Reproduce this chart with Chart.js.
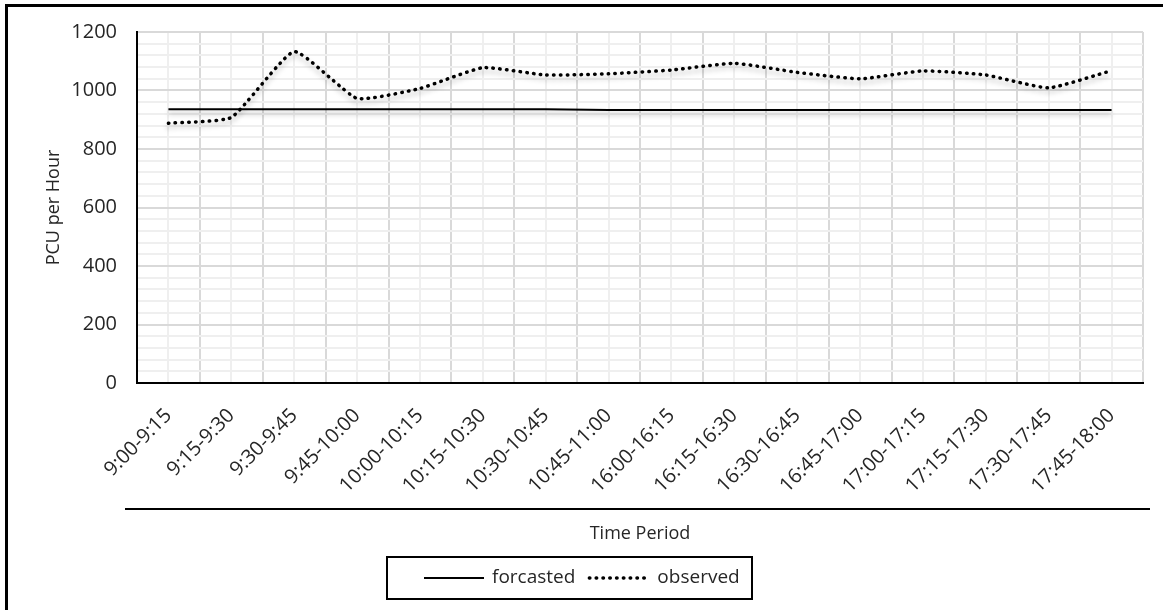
<!DOCTYPE html>
<html>
<head>
<meta charset="utf-8">
<script src="https://cdn.jsdelivr.net/npm/chart.js@4/dist/chart.umd.min.js"></script>
<style>
  html, body { margin: 0; padding: 0; background: #fff; }
  #wrap { position: relative; width: 1163px; height: 610px; overflow: hidden; }
  #frame { position: absolute; left: 5px; top: 4px; width: 1300px; height: 800px;
           border-left: 3px solid #000; border-top: 3px solid #000; }
  #chart { position: absolute; left: 0; top: 0; }
</style>
</head>
<body>
<div id="wrap">
  <div id="frame"></div>
  <canvas id="chart" width="1163" height="610"></canvas>
</div>
<script>
// ---------------------------------------------------------
// Data
// ---------------------------------------------------------
const periods = [
  '9:00-9:15', '9:15-9:30', '9:30-9:45', '9:45-10:00',
  '10:00-10:15', '10:15-10:30', '10:30-10:45', '10:45-11:00',
  '16:00-16:15', '16:15-16:30', '16:30-16:45', '16:45-17:00',
  '17:00-17:15', '17:15-17:30', '17:30-17:45', '17:45-18:00',
];
const forcasted = [936, 936, 936, 936, 936, 936, 936, 933, 933, 933, 933, 933, 933, 933, 933, 933];
const observed = [888, 908, 1133, 973, 1007, 1078, 1053, 1057, 1070, 1093, 1062, 1040, 1067, 1053, 1009, 1068];

const Y_MAX = 1200;
const Y_MINOR = 40;
const Y_MAJOR = 200;

const FONT = "'Open Sans', 'Noto Sans', sans-serif";
const TEXT = '#262626';
const GRID_MAJOR = '#d9d9d9';
const GRID_MINOR = '#efefef';

// soft drop shadow under the series lines (Excel look)
const shadowPlugin = {
  id: 'shadow',
  beforeDatasetsDraw(chart) {
    const ctx = chart.ctx;
    ctx.save();
    ctx.shadowColor = 'rgba(0, 0, 0, 0.28)';
    ctx.shadowBlur = 5;
    ctx.shadowOffsetY = 4;
  },
  afterDatasetsDraw(chart) {
    chart.ctx.restore();
  },
};

// rule under the category labels + boxed legend
const extrasPlugin = {
  id: 'extras',
  afterDraw(chart) {
    const ctx = chart.ctx;
    const area = chart.chartArea;
    ctx.save();

    ctx.strokeStyle = '#000';
    ctx.lineWidth = 2;
    ctx.beginPath();
    ctx.moveTo(area.left - 12, 509);
    ctx.lineTo(area.right + 7, 509);
    ctx.stroke();

    const box = { x: 387, y: 557, w: 365, h: 42 };
    ctx.strokeRect(box.x, box.y, box.w, box.h);

    ctx.font = '19px ' + FONT;
    ctx.textBaseline = 'middle';
    ctx.fillStyle = TEXT;
    const cy = box.y + box.h / 2;
    let x = 424;
    chart.data.datasets.forEach(ds => {
      ctx.save();
      ctx.strokeStyle = ds.borderColor;
      ctx.lineWidth = ds.borderWidth;
      ctx.lineCap = ds.borderCapStyle || 'butt';
      ctx.setLineDash(ds.borderDash || []);
      ctx.beginPath();
      ctx.moveTo(x, cy);
      ctx.lineTo(x + 60, cy);
      ctx.stroke();
      ctx.restore();
      x += 60 + 8;
      ctx.fillText(ds.label, x, cy);
      x += ctx.measureText(ds.label).width + 14;
    });
    ctx.restore();
  },
};

new Chart(document.getElementById('chart'), {
  type: 'line',
  data: {
    labels: periods,
    datasets: [
      {
        label: 'forcasted',
        data: forcasted,
        borderColor: '#000',
        borderWidth: 2,
        pointRadius: 0,
        tension: 0,
        fill: false,
      },
      {
        label: 'observed',
        data: observed,
        borderColor: '#000',
        borderWidth: 3.5,
        borderDash: [0.5, 6.3],
        borderCapStyle: 'round',
        pointRadius: 0,
        tension: 0.15,
        fill: false,
      },
    ],
  },
  options: {
    responsive: false,
    animation: false,
    devicePixelRatio: 1,
    layout: { padding: { top: 32, right: 20, left: 0, bottom: 0 } },
    plugins: {
      legend: { display: false },
      tooltip: { enabled: false },
    },
    scales: {
      x: {
        type: 'category',
        offset: true,
        afterFit: s => { s.height = 227; },
        grid: {
          offset: true,
          drawTicks: false,
          lineWidth: 2,
          color: c => (c.index === 0 ? 'rgba(0,0,0,0)' : GRID_MAJOR),
        },
        border: { color: '#000', width: 2 },
        ticks: {
          autoSkip: false,
          minRotation: 45,
          maxRotation: 45,
          padding: 21,
          color: TEXT,
          font: { family: FONT, size: 20 },
        },
        title: {
          display: true,
          text: 'Time Period',
          color: TEXT,
          font: { family: FONT, size: 18 },
          padding: { top: 0, bottom: 65 },
        },
      },
      x2: {
        type: 'category',
        position: 'top',
        offset: true,
        labels: periods,
        afterFit: s => { s.height = 0; },
        grid: { offset: false, drawTicks: false, lineWidth: 2, color: GRID_MINOR },
        border: { display: false },
        ticks: { display: false },
      },
      y: {
        min: 0,
        max: Y_MAX,
        afterFit: s => { s.width = 137; },
        grid: {
          drawTicks: false,
          lineWidth: 2,
          color: c => {
            const v = c.tick ? c.tick.value : -1;
            if (v === 0) return 'rgba(0,0,0,0)';
            return v % Y_MAJOR === 0 ? GRID_MAJOR : GRID_MINOR;
          },
        },
        border: { color: '#000', width: 2 },
        ticks: {
          stepSize: Y_MINOR,
          autoSkip: false,
          padding: 20,
          color: TEXT,
          font: { family: FONT, size: 20 },
          callback: v => (v % Y_MAJOR === 0 ? v : ''),
        },
        title: {
          display: true,
          text: 'PCU per Hour',
          color: TEXT,
          font: { family: FONT, size: 18 },
          padding: { top: 43, bottom: 0 },
        },
      },
    },
  },
  plugins: [shadowPlugin, extrasPlugin],
});
</script>
</body>
</html>
